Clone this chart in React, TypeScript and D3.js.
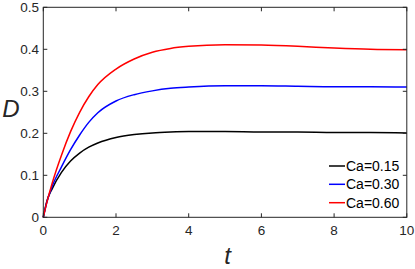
import React, { useEffect, useRef } from 'react';
import * as d3 from 'd3';

const times = [0, 0.1, 0.25, 0.5, 0.75, 1, 1.25, 1.5, 2, 2.5, 3, 3.5, 4, 5, 6, 7, 8, 9, 10];
const ca015 = [0, 0.039, 0.069, 0.107, 0.134, 0.153, 0.167, 0.177, 0.19, 0.197, 0.201, 0.203, 0.204, 0.204, 0.203, 0.203, 0.202, 0.202, 0.201];
const ca030 = [0, 0.037, 0.075, 0.12, 0.161, 0.196, 0.226, 0.249, 0.277, 0.292, 0.301, 0.307, 0.31, 0.313, 0.313, 0.312, 0.311, 0.311, 0.31];
const ca060 = [0, 0.036, 0.083, 0.148, 0.204, 0.25, 0.287, 0.316, 0.353, 0.377, 0.393, 0.402, 0.407, 0.411, 0.41, 0.407, 0.403, 0.4, 0.399];
const seriesNames = ['Ca=0.15', 'Ca=0.30', 'Ca=0.60'];
const seriesColors = ['#000000', '#0000ff', '#ff0000'];
const xTicks = [0, 2, 4, 6, 8, 10];
const yTicks = [0, 0.1, 0.2, 0.3, 0.4, 0.5];

const App = () => {
  const ref = useRef(null);

  useEffect(() => {
    const svg = d3.select(ref.current);
    svg.selectAll('*').remove();

    const left = 43.3, right = 406.8, top = 7.3, bottom = 217.3;
    const axisColor = '#262626';
    const font = 'Liberation Sans, Arial, Helvetica, sans-serif';

    const x = d3.scaleLinear().domain([0, 10]).range([left, right]);
    const y = d3.scaleLinear().domain([0, 0.5]).range([bottom, top]);

    const all = [ca015, ca030, ca060];
    const line = d3.line<number>()
      .x((d, i) => x(times[i]))
      .y(d => y(d))
      .curve(d3.curveMonotoneX);

    all.forEach((vals, k) => {
      svg.append('path')
        .attr('d', line(vals))
        .attr('fill', 'none')
        .attr('stroke', seriesColors[k])
        .attr('stroke-width', 1.5);
    });

    // box
    svg.append('rect')
      .attr('x', left).attr('y', top)
      .attr('width', right - left).attr('height', bottom - top)
      .attr('fill', 'none')
      .attr('stroke', axisColor)
      .attr('stroke-width', 1);

    const tl = 4;
    xTicks.forEach(t => {
      svg.append('line').attr('x1', x(t)).attr('x2', x(t)).attr('y1', bottom).attr('y2', bottom - tl)
        .attr('stroke', axisColor);
      svg.append('line').attr('x1', x(t)).attr('x2', x(t)).attr('y1', top).attr('y2', top + tl)
        .attr('stroke', axisColor);
      svg.append('text')
        .attr('x', x(t)).attr('y', 235)
        .attr('text-anchor', 'middle')
        .attr('font-family', font).attr('font-size', 13.5)
        .attr('fill', axisColor)
        .text(String(t));
    });

    yTicks.forEach(v => {
      svg.append('line').attr('x1', left).attr('x2', left + tl).attr('y1', y(v)).attr('y2', y(v))
        .attr('stroke', axisColor);
      svg.append('line').attr('x1', right).attr('x2', right - tl).attr('y1', y(v)).attr('y2', y(v))
        .attr('stroke', axisColor);
      svg.append('text')
        .attr('x', 39).attr('y', y(v) + 4.8)
        .attr('text-anchor', 'end')
        .attr('font-family', font).attr('font-size', 13.5)
        .attr('fill', axisColor)
        .text(v === 0 ? '0' : d3.format('.1f')(v));
    });

    // axis labels
    svg.append('text')
      .attr('x', 11).attr('y', 117.3)
      .attr('text-anchor', 'middle')
      .attr('font-family', font).attr('font-size', 24)
      .attr('font-style', 'italic')
      .attr('fill', axisColor)
      .text('D');

    svg.append('text')
      .attr('x', 227.5).attr('y', 264)
      .attr('text-anchor', 'middle')
      .attr('font-family', font).attr('font-size', 24)
      .attr('font-style', 'italic')
      .attr('fill', axisColor)
      .text('t');

    // legend
    const legY = [166, 184.3, 202.7];
    seriesNames.forEach((name, k) => {
      svg.append('line')
        .attr('x1', 329).attr('x2', 345)
        .attr('y1', legY[k]).attr('y2', legY[k])
        .attr('stroke', seriesColors[k]).attr('stroke-width', 1.5);
      svg.append('text')
        .attr('x', 346).attr('y', legY[k] + 5)
        .attr('font-family', font).attr('font-size', 14)
        .attr('fill', '#000')
        .text(name);
    });
  }, []);

  return (
    <svg ref={ref} width={415} height={269}
      style={{ position: 'absolute', left: 0, top: 0, background: '#fff' }} />
  );
};

export default App;
